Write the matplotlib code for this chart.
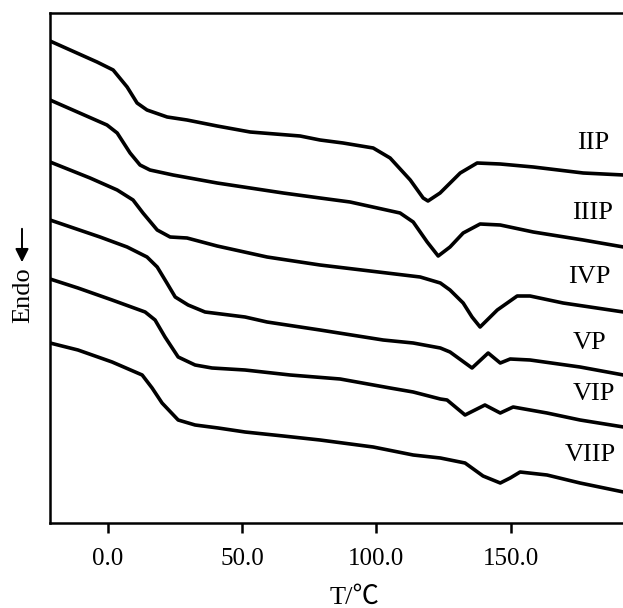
import numpy as np
import matplotlib
matplotlib.use("Agg")
import matplotlib.pyplot as plt

# DSC heating curves, heat flow in arbitrary units (endo down)
t_iip = [-21.5, -4, 2, 7.2, 10.9, 14.6, 22.1, 29.5, 40.7, 53, 71.6, 79, 87.6, 98.8, 105.1,
         112.6, 117.4, 119.2, 123.7, 131.2, 137.5, 146.1, 158.4, 177, 192]
q_iip = [48.2, 46.1, 45.3, 43.6, 42.0, 41.3, 40.6, 40.3, 39.7, 39.1, 38.7, 38.3, 38.0, 37.5, 36.5,
         34.3, 32.5, 32.2, 33.0, 35.0, 36.0, 35.9, 35.6, 35.0, 34.8]

t_iiip = [-21.5, -0.3, 3.5, 8.3, 12, 15.7, 24.3, 40.7, 65.3, 79, 90.2, 108.8, 113.7, 118.9,
          123, 127.4, 132.3, 138.6, 146.1, 158.4, 177, 192]
q_iiip = [42.3, 39.8, 39.0, 37.0, 35.8, 35.3, 34.8, 34.0, 33.0, 32.5, 32.1, 31.0, 30.1, 28.1,
          26.7, 27.6, 29.0, 29.9, 29.8, 29.1, 28.3, 27.6]

t_ivp = [-21.5, -6.6, 3.5, 9.4, 13.1, 18.4, 23.2, 29.5, 40.7, 59.3, 79, 116.3, 123.8, 127.4,
         132.3, 135.6, 138.6, 145, 152.4, 157.2, 169.5, 192]
q_ivp = [36.1, 34.5, 33.3, 32.3, 31.0, 29.3, 28.6, 28.5, 27.7, 26.6, 25.8, 24.6, 24.0, 23.3,
         22.0, 20.6, 19.6, 21.3, 22.7, 22.7, 22.0, 21.1]

t_vp = [-21.5, -2.9, 7.2, 14.6, 18.4, 22, 25.1, 29.9, 36.2, 51.1, 59.3, 79, 102.5, 113.7,
        123.8, 127.4, 135.6, 141.6, 146.1, 149.8, 157.2, 175.8, 192]
q_vp = [30.3, 28.6, 27.6, 26.6, 25.6, 24.0, 22.6, 21.8, 21.1, 20.6, 20.1, 19.3, 18.3, 18.0,
        17.5, 17.1, 15.5, 17.0, 16.0, 16.4, 16.3, 15.6, 14.8]

t_vip = [-21.5, -11.1, 1.6, 13.9, 17.6, 21.3, 26.2, 32.5, 38.8, 51.1, 67.9, 86.5, 105.1, 113.7,
         123.8, 126.3, 133, 140.4, 146.1, 150.9, 163.5, 175.8, 192]
q_vip = [24.4, 23.5, 22.3, 21.1, 20.3, 18.6, 16.6, 15.8, 15.5, 15.3, 14.8, 14.4, 13.5, 13.1,
         12.4, 12.3, 10.8, 11.8, 11.0, 11.6, 11.0, 10.3, 9.6]

t_viip = [-21.5, -11.1, 1.6, 12.8, 16.5, 20.2, 26.2, 32.5, 41.1, 51.1, 65.3, 79, 98.8, 113.7,
          123.8, 133, 139.7, 146.1, 149.8, 153.5, 163.5, 175.8, 192]
q_viip = [18.0, 17.3, 16.1, 14.8, 13.5, 12.0, 10.3, 9.8, 9.5, 9.1, 8.7, 8.3, 7.6, 6.8,
          6.5, 6.0, 4.7, 4.0, 4.5, 5.1, 4.8, 4.0, 3.1]

sample_names = ["IIP", "IIIP", "IVP", "VP", "VIP", "VIIP"]
tick_values = [0, 50, 100, 150]
tick_labels = ["0.0", "50.0", "100.0", "150.0"]

series = [(t_iip, q_iip), (t_iiip, q_iiip), (t_ivp, q_ivp),
          (t_vp, q_vp), (t_vip, q_vip), (t_viip, q_viip)]

# label anchors (T, heat flow)
label_pos = [(180.7, 38.0), (180.3, 31.0), (179.2, 24.6),
             (179.2, 18.0), (181.1, 12.9), (179.6, 6.8)]

serif = ["Liberation Serif", "Noto Sans CJK SC", "DejaVu Serif"]
plt.rcParams["font.family"] = serif

fig = plt.figure(figsize=(6.23, 6.08), dpi=100)
ax = fig.add_axes([49.5 / 623, 85 / 608, 1 - 49.5 / 623, 510 / 608])

for t, q in series:
    ax.plot(t, q, color="black", lw=2.6, solid_joinstyle="round", solid_capstyle="round")

for name, (x, y) in zip(sample_names, label_pos):
    ax.text(x, y, name, fontsize=19, ha="center", va="center")

ax.set_xlim(-21.7, 191.8)
ax.set_ylim(0, 51)
ax.set_xticks(tick_values)
ax.set_xticklabels(tick_labels, fontsize=18)
ax.set_yticks([])
ax.tick_params(axis="x", direction="out", length=7, width=1.8, pad=11)
for side in ["left", "bottom", "top"]:
    ax.spines[side].set_linewidth(1.8)
ax.spines["right"].set_visible(False)

fig.text(354 / 623, 1 - 598 / 608, "T/℃", fontsize=19, ha="center", va="center")
fig.text(23 / 623, 1 - 295 / 608, "Endo", fontsize=19, rotation=90,
         ha="center", va="center")
ax.annotate("", xy=(22 / 623, 1 - 265 / 608), xytext=(22 / 623, 1 - 226 / 608),
            xycoords="figure fraction", textcoords="figure fraction",
            arrowprops=dict(arrowstyle="-|>", color="black", lw=1.4, mutation_scale=20))

fig.savefig("out.png", dpi=100)
